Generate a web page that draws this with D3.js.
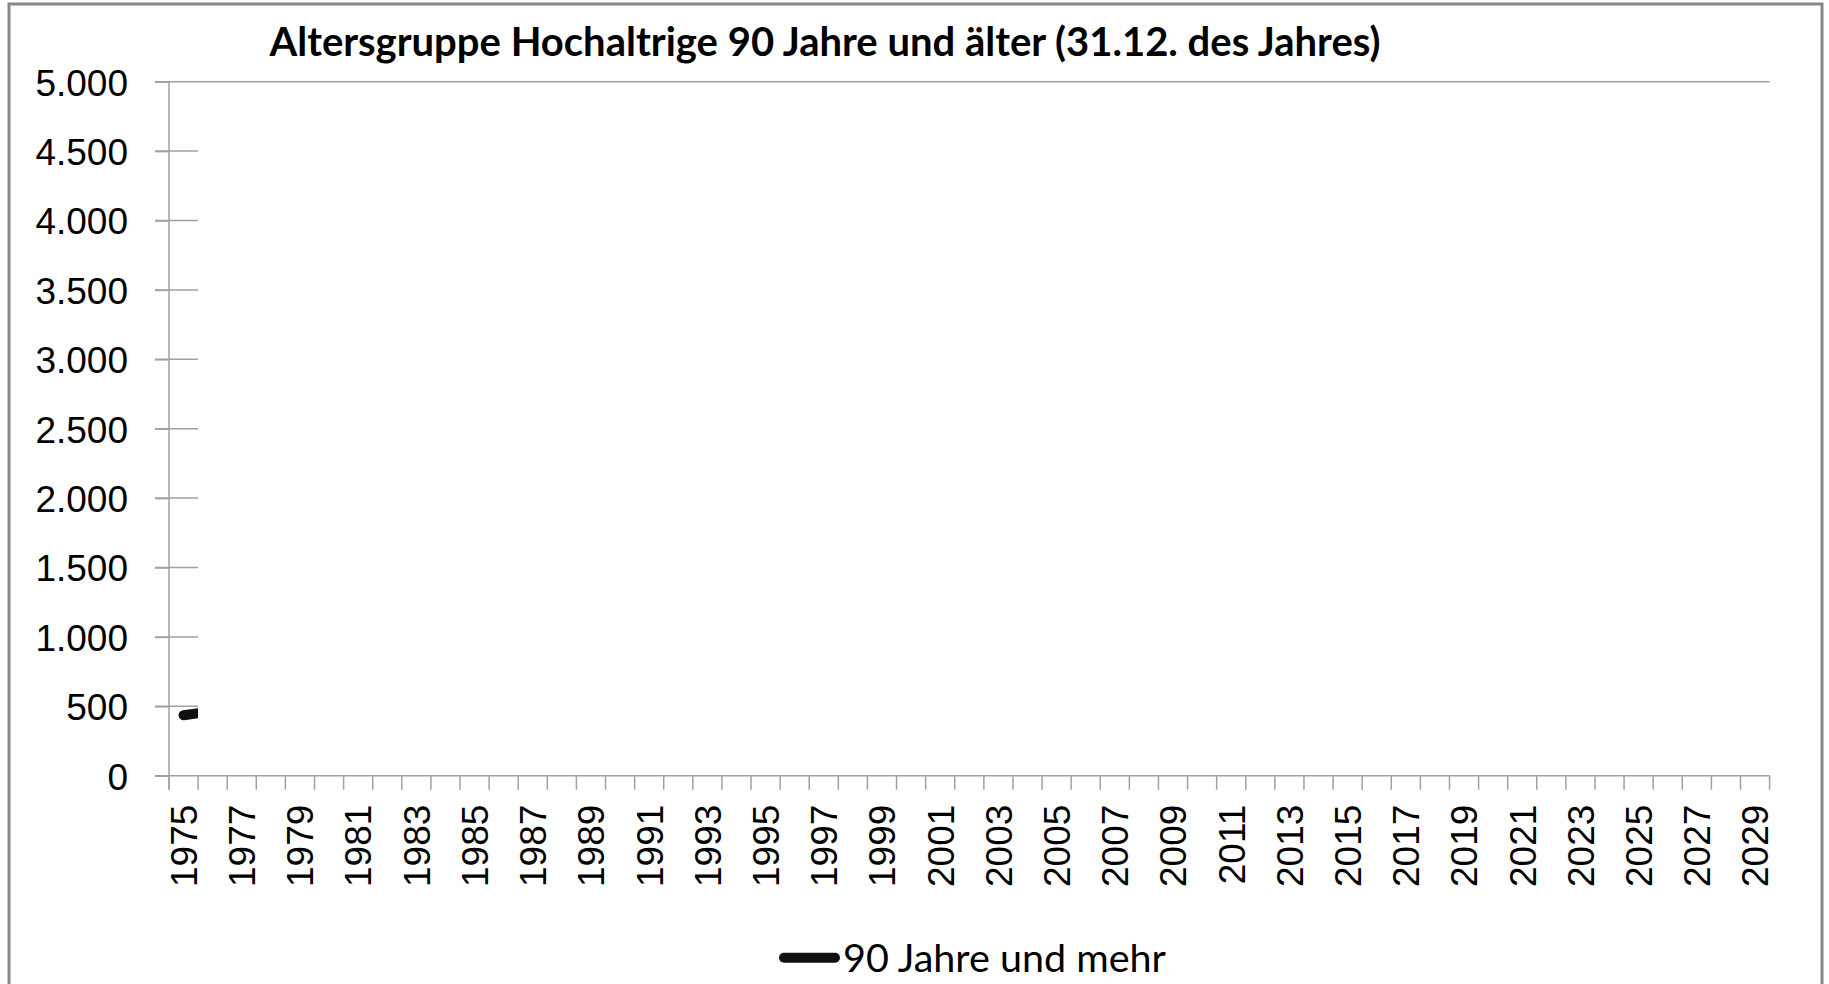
<!DOCTYPE html>
<html>
<head>
<meta charset="utf-8">
<script src="https://cdn.jsdelivr.net/npm/d3@7"></script>
<style>
  html, body { margin: 0; padding: 0; background: #fff; }
  svg { display: block; font-family: Lato, "Open Sans", sans-serif; }
</style>
</head>
<body>
<div id="chart"></div>
<script>
var TITLE = 'Altersgruppe Hochaltrige 90 Jahre und älter (31.12. des Jahres)';
var SERIES_NAME = '90 Jahre und mehr';

// categories on the x axis
var years = [1975, 1976, 1977, 1978, 1979, 1980, 1981, 1982, 1983, 1984,
             1985, 1986, 1987, 1988, 1989, 1990, 1991, 1992, 1993, 1994,
             1995, 1996, 1997, 1998, 1999, 2000, 2001, 2002, 2003, 2004,
             2005, 2006, 2007, 2008, 2009, 2010, 2011, 2012, 2013, 2014,
             2015, 2016, 2017, 2018, 2019, 2020, 2021, 2022, 2023, 2024,
             2025, 2026, 2027, 2028, 2029];

// the only visible part of the series
var seriesYears  = [1975, 1976];
var seriesValues = [435, 465];

var yTicks = [0, 500, 1000, 1500, 2000, 2500, 3000, 3500, 4000, 4500, 5000];

var width = 1829, height = 984;
var margin = {top: 81.7, right: 59.4, bottom: 208.3, left: 169};

var de = d3.formatLocale({decimal: ',', thousands: '.', grouping: [3], currency: ['', ' €']});
var fmt = de.format(',d');

var svg = d3.select('#chart').append('svg')
    .attr('width', width)
    .attr('height', height);

svg.append('rect')
    .attr('width', width)
    .attr('height', height)
    .style('fill', '#fff');

// outer frame
svg.append('rect')
    .attr('x', 9)
    .attr('y', 4)
    .attr('width', 1813)
    .attr('height', 1100)
    .style('fill', 'none')
    .style('stroke', '#878787')
    .style('stroke-width', 3);

var x = d3.scaleBand()
    .domain(years)
    .range([margin.left, width - margin.right]);

var y = d3.scaleLinear()
    .domain([0, 5000])
    .range([height - margin.bottom, margin.top]);

var x0 = x.range()[0], x1 = x.range()[1];
var axisColor = '#a0a0a0';

// part of the plot that was already drawn
svg.append('clipPath').attr('id', 'reveal')
  .append('rect')
    .attr('x', 0)
    .attr('y', 0)
    .attr('width', x(1976))
    .attr('height', height);

var grid = svg.append('g').attr('clip-path', 'url(#reveal)');

grid.selectAll('line')
    .data(yTicks.filter(function(d){ return d > 0 && d < 5000; }))
  .enter().append('line')
    .attr('x1', x0 - 14)
    .attr('x2', x1)
    .attr('y1', function(d){ return y(d); })
    .attr('y2', function(d){ return y(d); })
    .style('stroke', axisColor)
    .style('stroke-width', 1.5);

// top line
svg.append('line')
    .attr('x1', x0 - 14)
    .attr('x2', x1)
    .attr('y1', y(5000))
    .attr('y2', y(5000))
    .style('stroke', axisColor)
    .style('stroke-width', 1.5);

// y axis
var yAxis = svg.append('g')
    .attr('transform', 'translate(' + x0 + ',0)')
    .call(d3.axisLeft(y).tickValues(yTicks).tickFormat(fmt).tickSize(14).tickPadding(27));

yAxis.select('.domain').remove();
yAxis.selectAll('line').style('stroke', axisColor).style('stroke-width', 1.5);
yAxis.selectAll('text')
    .attr('dy', '0.36em')
    .style('font-size', '37px')
    .style('fill', '#000');

svg.append('line')
    .attr('x1', x0)
    .attr('x2', x0)
    .attr('y1', y(5000))
    .attr('y2', y(0) + 14)
    .style('stroke', axisColor)
    .style('stroke-width', 1.5);

// x axis
svg.append('line')
    .attr('x1', x0 - 14)
    .attr('x2', x1)
    .attr('y1', y(0))
    .attr('y2', y(0))
    .style('stroke', axisColor)
    .style('stroke-width', 1.5);

var bounds = years.map(function(d){ return x(d); }).concat([x1]);

svg.append('g').selectAll('line')
    .data(bounds)
  .enter().append('line')
    .attr('x1', function(d){ return d; })
    .attr('x2', function(d){ return d; })
    .attr('y1', y(0))
    .attr('y2', y(0) + 14)
    .style('stroke', axisColor)
    .style('stroke-width', 1.5);

var xAxis = svg.append('g')
    .attr('transform', 'translate(0,' + y(0) + ')')
    .call(d3.axisBottom(x)
      .tickValues(years.filter(function(d, i){ return i % 2 === 0; }))
      .tickSize(0));

xAxis.select('.domain').remove();
xAxis.selectAll('.tick line').remove();
xAxis.selectAll('text')
    .attr('transform', 'rotate(-90)')
    .attr('x', -29)
    .attr('y', 0)
    .attr('dy', '0.36em')
    .style('text-anchor', 'end')
    .style('font-size', '37px')
    .style('fill', '#000');

// series line
var pts = seriesYears.map(function(d, i){ return [x(d) + x.bandwidth() / 2, y(seriesValues[i])]; });

svg.append('path')
    .attr('clip-path', 'url(#reveal)')
    .attr('d', d3.line()(pts))
    .style('fill', 'none')
    .style('stroke', '#111')
    .style('stroke-width', 10)
    .style('stroke-linecap', 'round');

// title
svg.append('text')
    .attr('x', 825)
    .attr('y', 56)
    .style('text-anchor', 'middle')
    .style('font-size', '40px')
    .style('font-weight', 'bold')
    .style('fill', '#000')
    .text(TITLE);

// legend
var legend = svg.append('g');

legend.append('line')
    .attr('x1', 784)
    .attr('x2', 835)
    .attr('y1', 957.7)
    .attr('y2', 957.7)
    .style('stroke', '#111')
    .style('stroke-width', 10)
    .style('stroke-linecap', 'round');

legend.append('text')
    .attr('x', 843)
    .attr('y', 972)
    .style('font-size', '39.5px')
    .style('fill', '#000')
    .text(SERIES_NAME);
</script>
</body>
</html>
